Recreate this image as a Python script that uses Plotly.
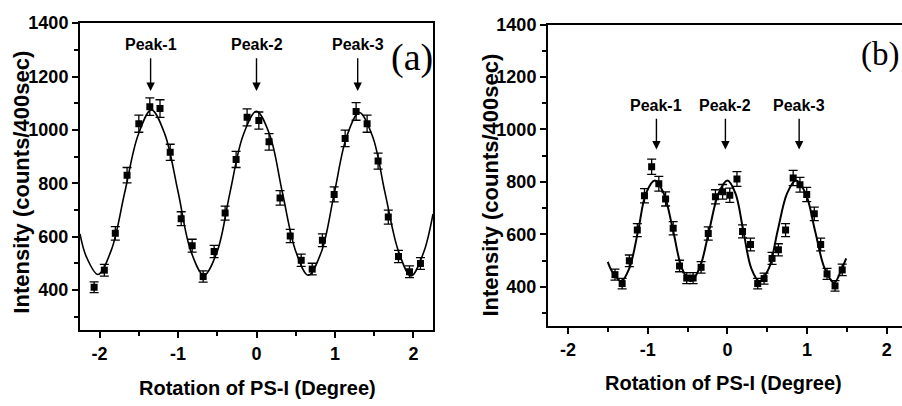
import plotly.graph_objects as go

# ---------------- Panel (a) data ----------------
a_x = [-2.07, -1.94, -1.80, -1.65, -1.50, -1.36, -1.23, -1.10, -0.96, -0.82, -0.68,
       -0.54, -0.40, -0.26, -0.12, 0.03, 0.16, 0.30, 0.43, 0.57, 0.71, 0.84, 0.99,
       1.13, 1.27, 1.41, 1.55, 1.68, 1.81, 1.95, 2.09]
a_y = [410, 474, 612, 830, 1023, 1087, 1080, 916, 667, 566, 450,
       544, 688, 889, 1047, 1035, 955, 745, 602, 511, 478, 586, 758,
       968, 1069, 1023, 883, 673, 525, 468, 499]
a_err = [20, 22, 25, 29, 32, 33, 33, 30, 26, 24, 21,
         23, 26, 30, 32, 32, 31, 27, 25, 23, 22, 24, 28,
         31, 33, 32, 30, 26, 23, 22, 22]
# fitted curve
a_fit_x = [-2.25, -2.17, -2.02, -1.85, -1.68, -1.51, -1.34, -1.17, -1.00, -0.84, -0.67,
           -0.50, -0.34, -0.17, 0.00, 0.17, 0.33, 0.50, 0.66, 0.83, 0.99, 1.15, 1.31,
           1.48, 1.64, 1.81, 1.97, 2.13, 2.25]
a_fit_y = [610, 525, 458, 550, 765, 980, 1075, 985, 768, 548, 455,
           545, 762, 980, 1070, 980, 765, 545, 455, 545, 760, 975, 1065,
           975, 762, 545, 452, 540, 685]

# ---------------- Panel (b) data ----------------
b_x = [-1.41, -1.32, -1.23, -1.13, -1.04, -0.95, -0.86, -0.775, -0.68, -0.60, -0.51,
       -0.43, -0.33, -0.24, -0.15, -0.06, 0.03, 0.12, 0.19, 0.29, 0.38, 0.46,
       0.56, 0.64, 0.73, 0.825, 0.91, 0.995, 1.09, 1.17, 1.25, 1.35, 1.44]
b_y = [446, 412, 499, 616, 747, 858, 793, 735, 623, 479, 433,
       433, 474, 603, 743, 762, 749, 811, 611, 561, 412, 431,
       508, 541, 616, 815, 789, 752, 678, 561, 449, 403, 464]
b_err = [21, 20, 22, 25, 27, 29, 28, 27, 25, 22, 21,
         21, 22, 25, 27, 28, 27, 28, 25, 24, 20, 21,
         23, 23, 25, 29, 28, 27, 26, 24, 21, 20, 22]
b_fit_x = [-1.50, -1.44, -1.33, -1.23, -1.12, -1.02, -0.91, -0.80, -0.68, -0.57, -0.46,
           -0.35, -0.23, -0.11, 0.00, 0.10, 0.20, 0.30, 0.40, 0.52, 0.63, 0.75,
           0.86, 0.98, 1.10, 1.22, 1.34, 1.43, 1.49]
b_fit_y = [495, 455, 421, 470, 613, 757, 805, 757, 613, 470, 421,
           470, 613, 757, 805, 757, 613, 470, 421, 470, 613, 757,
           805, 757, 613, 470, 415, 465, 508]

peak_labels = ["Peak-1", "Peak-2", "Peak-3"]
a_peak_x = [-1.35, 0.0, 1.29]
b_peak_x = [-0.89, -0.025, 0.90]

x_tick_vals = [-2, -1, 0, 1, 2]
x_tick_text = ["-2", "-1", "0", "1", "2"]
y_tick_vals = [400, 600, 800, 1000, 1200, 1400]
y_tick_text = ["400", "600", "800", "1000", "1200", "1400"]

FONT = "Liberation Sans, Arial, sans-serif"
W, H = 902, 406

fig = go.Figure()

def add_panel(xs, ys, errs, fx, fy, xa, ya, lw):
    fig.add_trace(go.Scatter(
        x=fx, y=fy, mode="lines", line=dict(color="black", width=lw, shape="spline", smoothing=1.0),
        xaxis=xa, yaxis=ya, showlegend=False, hoverinfo="skip"))
    fig.add_trace(go.Scatter(
        x=xs, y=ys, mode="markers",
        marker=dict(symbol="square", size=7, color="black"),
        error_y=dict(type="data", array=errs, visible=True, color="black", thickness=1.3, width=4.5),
        xaxis=xa, yaxis=ya, showlegend=False))

add_panel(a_x, a_y, a_err, a_fit_x, a_fit_y, "x", "y", 1.6)
add_panel(b_x, b_y, b_err, b_fit_x, b_fit_y, "x2", "y2", 2.0)

bold = lambda lst: ["<b>%s</b>" % t for t in lst]

axis_common = dict(
    showgrid=False, zeroline=False, linecolor="black", linewidth=2,
    ticks="outside", tickcolor="black", tickwidth=2, ticklen=6,
    tickfont=dict(family=FONT, size=18, color="black"),
)
x_minor = dict(tickvals=[-1.5, -0.5, 0.5, 1.5], ticklen=4, tickwidth=2, tickcolor="black", ticks="outside")
y_minor = dict(tickvals=[300, 500, 700, 900, 1100, 1300], ticklen=4, tickwidth=2, tickcolor="black", ticks="outside")

fig.update_layout(
    width=W, height=H, margin=dict(l=0, r=0, t=0, b=0),
    paper_bgcolor="white", plot_bgcolor="white",
    xaxis=dict(domain=[80 / W, 433 / W], range=[-2.25, 2.25], anchor="y",
               tickvals=x_tick_vals, ticktext=bold(x_tick_text), mirror=True, minor=x_minor,
               **axis_common),
    yaxis=dict(domain=[1 - 328 / H, 1 - 13.5 / H], range=[250, 1400], anchor="x",
               tickvals=y_tick_vals, ticktext=bold(y_tick_text), mirror=True, minor=y_minor,
               **axis_common),
    xaxis2=dict(domain=[548 / W, 1.0], range=[-2.25, 2.19], anchor="y2",
                tickvals=x_tick_vals, ticktext=bold(x_tick_text), mirror=True, minor=x_minor,
                **axis_common),
    yaxis2=dict(domain=[1 - 324 / H, 1 - 15 / H], range=[250, 1400], anchor="x2",
                tickvals=y_tick_vals, ticktext=bold(y_tick_text), mirror=False, minor=y_minor,
                **axis_common),
)

annotations = []

def peak_annots(px, xr, yr, tip, tail, ty):
    for lab, xv in zip(peak_labels, px):
        annotations.append(dict(x=xv, y=ty, xref=xr, yref=yr, text="<b>%s</b>" % lab, showarrow=False,
                                xanchor="center", yanchor="middle",
                                font=dict(family=FONT, size=16, color="black")))
        annotations.append(dict(x=xv, y=tip, ax=xv, ay=tail, xref=xr, yref=yr, axref=xr, ayref=yr,
                                text="", showarrow=True, arrowhead=2, arrowsize=1.2,
                                arrowwidth=1.4, arrowcolor="black"))

peak_annots(a_peak_x, "x", "y", 1146, 1274, 1321)
peak_annots(b_peak_x, "x2", "y2", 924, 1047, 1091)

def paper_text(px, py, text, font, angle=0):
    annotations.append(dict(x=px / W, y=1 - py / H, xref="paper", yref="paper", text=text,
                            xanchor="center", yanchor="middle", textangle=angle,
                            showarrow=False, font=font))

# panel letters
paper_text(412, 49, "(a)", dict(family="Liberation Serif, Times New Roman, serif", size=38, color="black"))
paper_text(880, 46, "(b)", dict(family="Liberation Serif, Times New Roman, serif", size=33, color="black"))

# axis titles
title_font = dict(family=FONT, size=22, color="black")
paper_text(22, 177, "<b>Intensity (counts/400sec)</b>", title_font, -90)
paper_text(491, 180, "<b>Intensity (counts/400sec)</b>", title_font, -90)
xt_font = dict(family=FONT, size=20, color="black")
paper_text(257.5, 388, "<b>Rotation of PS-I (Degree)</b>", xt_font)
paper_text(723, 382, "<b>Rotation of PS-I (Degree)</b>", xt_font)

fig.update_layout(annotations=annotations)

fig.write_html("out.html")
